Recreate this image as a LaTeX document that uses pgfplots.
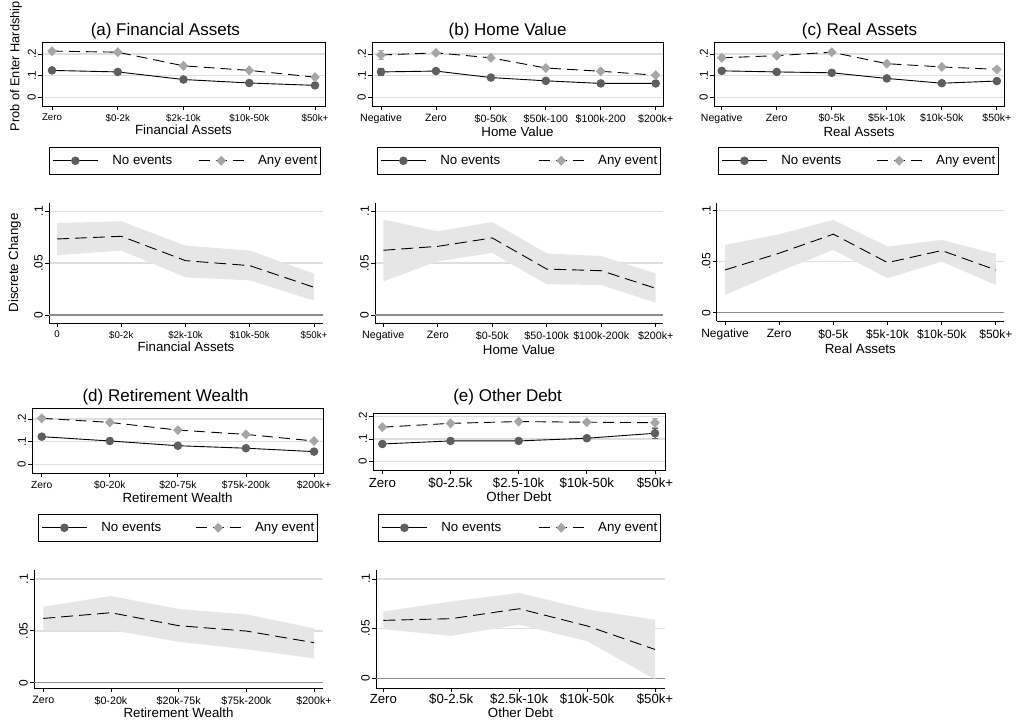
\documentclass[border=0pt]{standalone}
\usepackage{fontspec}
\setmainfont{Liberation Sans}
\usepackage{pgfplots}
\usepackage{pgfplotstable}
\pgfplotsset{compat=1.18}

\definecolor{markno}{HTML}{5E5E5E}
\definecolor{markany}{HTML}{A6A6A6}
\definecolor{gridc}{HTML}{DEDEDE}
\definecolor{bandc}{HTML}{E6E6E6}
\definecolor{zeroc}{HTML}{8C8C8C}
\newcommand{\fs}[1]{\fontsize{#1}{#1}\selectfont}

% Predicted probabilities: no events vs. any event (error = half CI)
\pgfplotstableread{
x no noe any anye
0 0.124 0 0.213 0
1 0.117 0 0.208 0
2 0.082 0 0.145 0
3 0.066 0 0.124 0
4 0.055 0 0.093 0
}\tabAt
\pgfplotstableread{
x no noe any anye
0 0.117 0.015 0.195 0.020
1 0.121 0 0.205 0
2 0.091 0 0.182 0
3 0.076 0 0.135 0
4 0.064 0 0.120 0
5 0.064 0 0.102 0
}\tabBt
\pgfplotstableread{
x no noe any anye
0 0.122 0.009 0.182 0.009
1 0.117 0 0.192 0
2 0.113 0 0.208 0
3 0.087 0 0.155 0
4 0.065 0 0.140 0
5 0.075 0 0.129 0
}\tabCt
\pgfplotstableread{
x no noe any anye
0 0.122 0 0.203 0
1 0.103 0 0.185 0
2 0.082 0 0.151 0
3 0.071 0 0.132 0
4 0.056 0 0.103 0
}\tabDt
\pgfplotstableread{
x no noe any anye
0 0.0785 0 0.153 0
1 0.092 0 0.170 0
2 0.092 0 0.178 0
3 0.104 0 0.175 0
4 0.126 0.022 0.173 0.021
}\tabEt

% Discrete change: point estimate, and the CI band as a closed outline
% (upper bound left to right, then lower bound right to left)
\pgfplotstableread{
x est
0 0.0733
1 0.0759
2 0.0524
3 0.0476
4 0.0267
}\tabAb
\pgfplotstableread{
x y
0 0.0887
1 0.0904
2 0.0669
3 0.0621
4 0.0399
4 0.0138
3 0.0334
2 0.0363
1 0.0621
0 0.0576
}\bandAb
\pgfplotstableread{
x est
0 0.0624
1 0.0662
2 0.0743
3 0.0443
4 0.0427
5 0.0257
}\tabBb
\pgfplotstableread{
x y
0 0.0920
1 0.0807
2 0.0897
3 0.0594
4 0.0568
5 0.0402
5 0.0119
4 0.0289
3 0.0296
2 0.0598
1 0.0518
0 0.0325
}\bandBb
\pgfplotstableread{
x est
0 0.0418
1 0.0582
2 0.0768
3 0.0490
4 0.0608
5 0.0418
}\tabCb
\pgfplotstableread{
x y
0 0.0663
1 0.0768
2 0.0908
3 0.0647
4 0.0712
5 0.0575
5 0.0271
4 0.0500
3 0.0337
2 0.0614
1 0.0402
0 0.0173
}\bandCb
\pgfplotstableread{
x est
0 0.0620
1 0.0675
2 0.0550
3 0.0498
4 0.0386
}\tabDb
\pgfplotstableread{
x y
0 0.0733
1 0.0836
2 0.0711
3 0.0659
4 0.0524
4 0.0235
3 0.0322
2 0.0395
1 0.0508
0 0.0508
}\bandDb
\pgfplotstableread{
x est
0 0.0583
1 0.0600
2 0.0700
3 0.0527
4 0.0290
}\tabEb
\pgfplotstableread{
x y
0 0.0673
1 0.0773
2 0.0860
3 0.0693
4 0.0590
4 -0.0010
3 0.0373
2 0.0540
1 0.0427
0 0.0493
}\bandEb

\pgfplotsset{
  common/.style={scale only axis,
    axis line style={black, line width=0.9pt},
    tick style={black, line width=0.8pt}, tick align=outside, major tick length=4pt,
    xtick pos=bottom, ytick pos=left,
    ymajorgrids, grid style={gridc, line width=1.5pt},
    xticklabel style={inner sep=2pt, yshift=-2pt},
    xlabel style={font=\fs{13.3}, inner sep=1pt},
    ylabel style={font=\fs{13.3}},
    title style={font=\fs{17}, inner sep=3pt, yshift=-6pt},
  },
  toppanel/.style={common,
    ymin=-0.04, ymax=0.255,
    ytick={0,0.1,0.2}, yticklabels={0,.1,.2},
    yticklabel style={rotate=90, anchor=south, font=\fs{11.5}, inner sep=2pt},
    legend columns=2,
    legend image code/.code={\draw[mark repeat=2,mark phase=2,##1] plot coordinates {(0pt,0pt) (22.5pt,0pt) (45pt,0pt)};},
    legend style={anchor=north west, draw=black, line width=0.9pt,
      inner xsep=3pt, inner ysep=8pt, font=\fs{13.3},
      nodes={inner sep=0pt}, cells={anchor=west},
      /tikz/every odd column/.append style={column sep=14pt}},
  },
  botpanel/.style={common,
    axis x line*=bottom, axis y line*=left,
    ytick={0.05,0.1}, yticklabels={.05,.1},
    extra y ticks={0}, extra y tick labels={0},
    extra y tick style={grid=major, grid style={zeroc, line width=1.2pt}},
    yticklabel style={rotate=90, anchor=south, font=\fs{12}, inner sep=2pt},
  },
  noev/.style={black, solid, line width=0.9pt, mark=*, mark size=3.8pt,
    mark options={solid, fill=markno, draw=markno},
    error bars/.cd, y dir=both, y explicit,
    error bar style={markno, solid, line width=0.9pt},
    error mark options={rotate=90, markno, solid, mark size=3pt, line width=0.9pt}},
  anyev/.style={black, dash pattern=on 11pt off 6pt, line width=0.9pt,
    mark=diamond*, mark size=4.3pt,
    mark options={solid, fill=markany, draw=markany, xscale=1.3},
    error bars/.cd, y dir=both, y explicit,
    error bar style={markany, solid, line width=0.9pt},
    error mark options={rotate=90, markany, solid, mark size=3pt, line width=0.9pt}},
  estline/.style={black, dash pattern=on 12pt off 6pt, line width=0.9pt, no markers},
  band/.style={fill=bandc, draw=none, no markers},
}

\begin{document}
\begin{tikzpicture}
\path[use as bounding box] (0pt,0pt) rectangle (1016pt,727pt);

% ---------- (a) Financial Assets ----------
\begin{axis}[toppanel, at={(42pt,621pt)}, width=283pt, height=64pt,
  xmin=-0.152, xmax=4.152,
  xtick={0,...,4}, xticklabels={Zero,\$0-2k,\$2k-10k,\$10k-50k,\$50k+},
  xticklabel style={font=\fs{9.7}},
  xlabel={Financial Assets}, ylabel={Prob of Enter Hardship},
  ylabel style={at={(ticklabel cs:0.62)}, font=\fs{12.8}},
  title={(a) Financial Assets}, title style={at={(0.436,1)}},
  legend style={at={(0.0247,-0.6406)}, /tikz/every even column/.append style={column sep=26pt}}]
\addplot[noev] table[x=x, y=no, y error=noe] {\tabAt};
\addlegendentry{No events}
\addplot[anyev] table[x=x, y=any, y error=anye] {\tabAt};
\addlegendentry{Any event}
\end{axis}

\begin{axis}[botpanel, at={(49pt,404pt)}, width=274pt, height=120pt,
  xmin=-0.125, xmax=4.14, ymin=-0.0077, ymax=0.108,
  xtick={0,...,4}, xticklabels={0,\$0-2k,\$2k-10k,\$10k-50k,\$50k+},
  xticklabel style={font=\fs{9.7}},
  xlabel={Financial Assets}, ylabel={Discrete Change}]
\addplot[band] table[x=x, y=y] {\bandAb};
\addplot[estline] table[x=x, y=est] {\tabAb};
\end{axis}

% ---------- (b) Home Value ----------
\begin{axis}[toppanel, at={(372pt,621pt)}, width=291pt, height=64pt,
  xmin=-0.164, xmax=5.133,
  xtick={0,...,5}, xticklabels={Negative,Zero,\$0-50k,\$50k-100,\$100k-200,\$200k+},
  xticklabel style={font=\fs{10.6}},
  xlabel={Home Value},
  title={(b) Home Value}, title style={at={(0.466,1)}},
  legend style={at={(0.0172,-0.6406)}, /tikz/every even column/.append style={column sep=38pt}}]
\addplot[noev] table[x=x, y=no, y error=noe] {\tabBt};
\addlegendentry{No events}
\addplot[anyev] table[x=x, y=any, y error=anye] {\tabBt};
\addlegendentry{Any event}
\end{axis}

\begin{axis}[botpanel, at={(375pt,404pt)}, width=288pt, height=120pt,
  xmin=-0.152, xmax=5.134, ymin=-0.0077, ymax=0.108,
  xtick={0,...,5}, xticklabels={Negative,Zero,\$0-50k,\$50-100k,\$100k-200k,\$200k+},
  xticklabel style={font=\fs{10.7}},
  xlabel={Home Value}]
\addplot[band] table[x=x, y=y] {\bandBb};
\addplot[estline] table[x=x, y=est] {\tabBb};
\end{axis}

% ---------- (c) Real Assets ----------
\begin{axis}[toppanel, at={(714pt,621pt)}, width=290pt, height=64pt,
  xmin=-0.14, xmax=5.13,
  xtick={0,...,5}, xticklabels={Negative,Zero,\$0-5k,\$5k-10k,\$10k-50k,\$50k+},
  xticklabel style={font=\fs{10.5}},
  xlabel={Real Assets},
  title={(c) Real Assets}, title style={at={(0.502,1)}},
  legend style={at={(0.0138,-0.6406)}, /tikz/every even column/.append style={column sep=35pt}}]
\addplot[noev] table[x=x, y=no, y error=noe] {\tabCt};
\addlegendentry{No events}
\addplot[anyev] table[x=x, y=any, y error=anye] {\tabCt};
\addlegendentry{Any event}
\end{axis}

\begin{axis}[botpanel, at={(716.7pt,406pt)}, width=287.3pt, height=117.7pt,
  xmin=-0.153, xmax=5.15, ymin=-0.0081, ymax=0.107,
  xtick={0,...,5}, xticklabels={Negative,Zero,\$0-5k,\$5k-10k,\$10k-50k,\$50k+},
  xticklabel style={font=\fs{12}},
  xlabel={Real Assets}]
\addplot[band] table[x=x, y=y] {\bandCb};
\addplot[estline] table[x=x, y=est] {\tabCb};
\end{axis}

% ---------- (d) Retirement Wealth ----------
\begin{axis}[toppanel, at={(32pt,254pt)}, width=291pt, height=65pt,
  xmin=-0.143, xmax=4.132, ymin=-0.0384, ymax=0.2486,
  xtick={0,...,4}, xticklabels={Zero,\$0-20k,\$20-75k,\$75k-200k,\$200k+},
  xticklabel style={font=\fs{10.3}},
  xlabel={Retirement Wealth},
  title={(d) Retirement Wealth}, title style={at={(0.459,1)}},
  legend style={at={(0.0206,-0.631)}, /tikz/every even column/.append style={column sep=34pt}}]
\addplot[noev] table[x=x, y=no, y error=noe] {\tabDt};
\addlegendentry{No events}
\addplot[anyev] table[x=x, y=any, y error=anye] {\tabDt};
\addlegendentry{Any event}
\end{axis}

\begin{axis}[botpanel, at={(34pt,39pt)}, width=289pt, height=118pt,
  xmin=-0.137, xmax=4.133, ymin=-0.0051, ymax=0.1087,
  xtick={0,...,4}, xticklabels={Zero,\$0-20k,\$20k-75k,\$75k-200k,\$200k+},
  xticklabel style={font=\fs{10.7}},
  xlabel={Retirement Wealth}]
\addplot[band] table[x=x, y=y] {\bandDb};
\addplot[estline] table[x=x, y=est] {\tabDb};
\end{axis}

% ---------- (e) Other Debt ----------
\begin{axis}[toppanel, at={(373pt,257pt)}, width=292pt, height=57pt,
  xmin=-0.137, xmax=4.147, ymin=-0.037, ymax=0.216,
  xtick={0,...,4}, xticklabels={Zero,\$0-2.5k,\$2.5-10k,\$10k-50k,\$50k+},
  xticklabel style={font=\fs{13.2}},
  xlabel={Other Debt},
  title={(e) Other Debt}, title style={at={(0.461,1)}, yshift=5pt},
  legend style={at={(0.0171,-0.772)}, /tikz/every even column/.append style={column sep=37pt}}]
\addplot[noev] table[x=x, y=no, y error=noe] {\tabEt};
\addlegendentry{No events}
\addplot[anyev] table[x=x, y=any, y error=anye] {\tabEt};
\addlegendentry{Any event}
\end{axis}

\begin{axis}[botpanel, at={(376pt,39pt)}, width=289pt, height=118pt,
  xmin=-0.108, xmax=4.147, ymin=-0.0098, ymax=0.109,
  xtick={0,...,4}, xticklabels={Zero,\$0-2.5k,\$2.5k-10k,\$10k-50k,\$50k+},
  xticklabel style={font=\fs{13.2}, yshift=2pt},
  xlabel={Other Debt}]
\addplot[band] table[x=x, y=y] {\bandEb};
\addplot[estline] table[x=x, y=est] {\tabEb};
\end{axis}
\end{tikzpicture}
\end{document}
